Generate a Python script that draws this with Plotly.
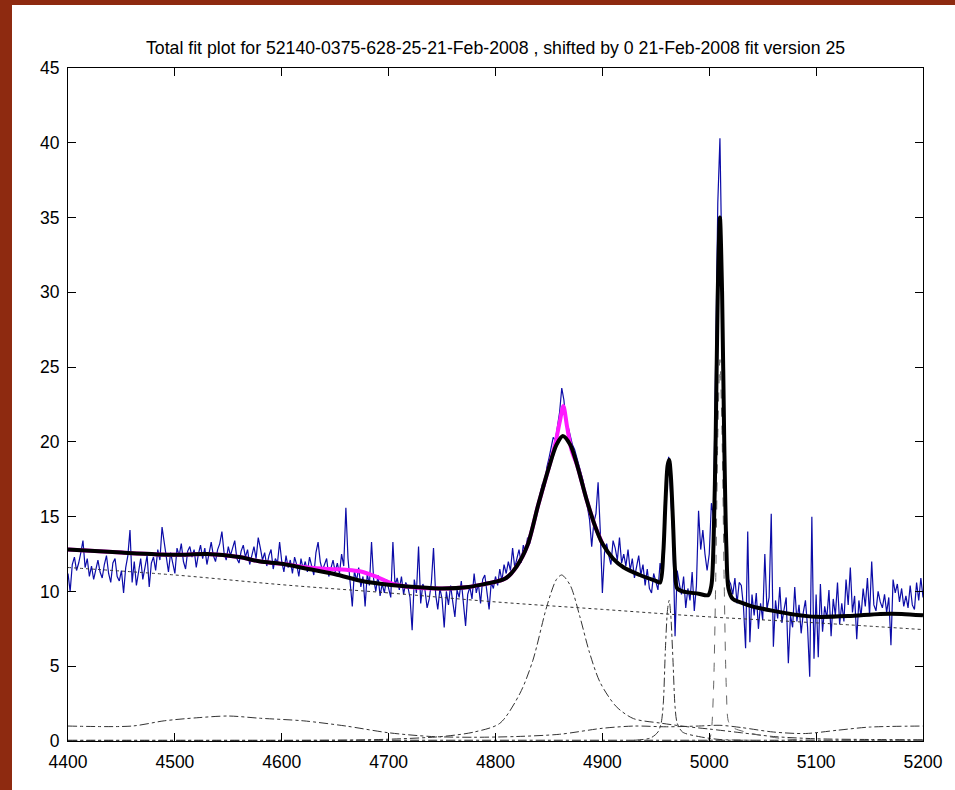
import numpy as np
import plotly.graph_objects as go

# Observed spectrum, 2 A steps from 4400 A
flux = [
    11.2, 10.0, 11.8, 12.3, 11.4, 11.9, 12.6, 13.4, 11.6, 12.2,   # 4400
    11.0, 11.7, 10.8, 11.5, 12.1, 11.3, 10.9, 11.8, 12.4, 11.2,   # 4420
    10.6, 11.9, 12.2, 11.0, 10.7, 11.4, 9.9, 11.6, 12.4, 14.1,    # 4440
    10.6, 12.0, 10.4, 11.3, 12.2, 10.8, 11.7, 12.4, 10.3, 11.9,   # 4460
    12.3, 11.4, 12.8, 12.1, 14.3, 13.4, 12.2, 11.3, 12.6, 12.0,   # 4480
    11.2, 12.9, 12.4, 13.2, 12.0, 11.5, 12.7, 13.0, 12.3, 12.8,   # 4500
    11.6, 12.5, 13.1, 12.2, 12.9, 11.8, 12.6, 13.3, 12.4, 12.0,   # 4520
    12.8, 13.2, 14.0, 12.6, 12.1, 13.0, 12.4, 12.9, 13.4, 12.2,   # 4540
    11.9, 12.7, 13.1, 12.3, 12.8, 11.8, 12.5, 13.0, 12.2, 13.6,   # 4560
    12.9, 12.1, 12.6, 11.7, 12.4, 12.8, 11.5, 12.2, 11.9, 13.3,   # 4580
    12.0, 11.3, 12.4, 11.6, 12.1, 11.2, 12.3, 11.8, 11.0, 12.2,   # 4600
    11.5, 12.0, 11.3, 12.3, 11.7, 11.1, 12.6, 13.3, 12.0, 11.4,   # 4620
    11.8, 12.2, 11.0, 11.6, 12.1, 11.3, 11.9, 11.2, 12.5, 11.7,   # 4640
    15.6, 12.2, 10.8, 9.0, 11.4, 10.7, 11.6, 10.3, 11.0, 9.0,     # 4660
    11.2, 10.4, 13.3, 10.8, 10.0, 11.1, 9.7, 10.5, 9.9, 10.8,     # 4680
    10.2, 9.6, 13.3, 10.4, 10.9, 10.1, 11.0, 9.8, 10.6, 10.3,     # 4700
    9.6, 7.4, 10.8, 9.9, 13.0, 9.2, 10.5, 10.1, 8.9, 9.5,         # 4720
    10.6, 12.9, 9.8, 8.8, 10.2, 9.5, 7.6, 10.0, 9.1, 10.4,        # 4740
    9.3, 8.3, 10.1, 9.6, 10.7, 9.0, 7.7, 9.8, 10.3, 9.5,          # 4760
    11.2, 9.9, 10.5, 9.2, 10.8, 11.1, 10.0, 8.8, 10.6, 10.2,      # 4780
    11.0, 10.4, 11.5, 10.7, 11.8, 11.2, 12.0, 11.4, 12.9, 11.6,   # 4800
    12.2, 12.8, 11.9, 13.1, 12.6, 13.6, 13.2, 14.1, 14.8, 15.3,   # 4820
    15.8, 16.6, 17.2, 17.0, 18.3, 18.9, 19.6, 20.3, 20.1, 21.0,   # 4840
    22.0, 23.6, 22.8, 21.2, 21.0, 20.4, 19.8, 19.5, 19.0, 18.4,   # 4860
    17.9, 17.4, 16.5, 15.7, 14.8, 13.0, 14.6, 15.2, 17.3, 14.1,   # 4880
    9.9, 12.6, 13.2, 12.4, 11.8, 13.4, 12.9, 12.1, 13.6, 11.9,    # 4900
    12.5, 11.7, 12.8, 11.4, 12.2, 10.9, 11.6, 12.4, 11.1, 11.8,   # 4920
    10.4, 11.5, 10.2, 9.9, 11.2, 10.6, 10.1, 11.9, 11.0, 13.5,    # 4940
    17.6, 19.0, 16.0, 13.7, 7.0, 11.4, 10.5, 9.8, 11.0, 8.9,      # 4960
    10.2, 9.4, 11.3, 8.7, 10.4, 15.4, 12.8, 14.1, 12.5, 11.4,     # 4980
    12.5, 15.9, 15.0, 24.0, 36.0, 40.3, 31.0, 19.0, 12.5, 10.8,   # 5000
    10.5, 9.8, 10.9, 9.2, 10.6, 10.4, 9.0, 6.2, 14.0, 6.6,        # 5020
    9.8, 8.4, 9.9, 7.5, 9.2, 8.1, 12.5, 8.8, 9.6, 15.2,           # 5040
    6.3, 9.4, 8.2, 10.3, 7.9, 8.8, 9.6, 5.2, 8.4, 7.6,            # 5060
    10.3, 8.0, 9.1, 7.2, 8.6, 9.4, 7.6, 4.3, 15.0, 5.5,           # 5080
    9.8, 5.6, 10.5, 7.3, 9.0, 8.2, 10.1, 7.0, 9.5, 8.4,           # 5100
    10.6, 7.8, 9.2, 8.0, 10.8, 9.1, 11.6, 8.6, 9.7, 6.8,          # 5120
    9.4, 8.3, 10.2, 9.0, 10.9, 8.4, 12.0, 9.1, 8.7, 10.0,         # 5140
    9.3, 8.9, 9.8, 8.6, 9.6, 6.4, 10.8, 9.9, 10.5, 9.3,           # 5160
    10.2, 9.0, 9.7, 8.9, 10.4, 9.1, 8.8, 10.6, 9.4, 10.9,         # 5180
    9.6,                                                          # 5200
]
wave = 4400 + 2 * np.arange(len(flux))

# Total model (black)
fit_wave = [4400, 4450, 4500, 4530, 4560, 4580, 4600, 4625, 4650, 4675, 4700,
            4725, 4750, 4775, 4790, 4800, 4810, 4820, 4830, 4840, 4850, 4857,
            4863, 4870, 4877, 4885, 4893, 4900, 4910, 4920, 4935, 4950, 4954,
            4957, 4959, 4961, 4962.5, 4964, 4966, 4968, 4970, 4975, 4990, 4999,
            5002, 5004, 5006, 5008, 5010, 5012, 5014, 5016, 5018, 5022, 5030,
            5040, 5060, 5080, 5100, 5130, 5160, 5180, 5200]
fit_flux = [12.8, 12.6, 12.45, 12.5, 12.3, 12.0, 11.85, 11.5, 11.15, 10.7, 10.45,
            10.3, 10.2, 10.3, 10.5, 10.65, 10.9, 11.7, 13.1, 15.8, 18.3, 19.8,
            20.4, 19.8, 18.3, 16.2, 14.4, 13.2, 12.2, 11.6, 11.1, 10.7, 10.6,
            12.6, 15.9, 18.4, 18.8, 17.8, 14.8, 11.4, 10.2, 10.0, 9.85, 9.75,
            10.4, 13.2, 20.2, 30.1, 35.0, 30.0, 20.1, 13.0, 10.2, 9.5, 9.25,
            9.0, 8.7, 8.45, 8.3, 8.35, 8.5, 8.5, 8.4]

# Alternative model (magenta), includes narrow H-beta and extra emission near 4680
alt_wave = [4400, 4450, 4500, 4530, 4560, 4580, 4600, 4625, 4645, 4660, 4673,
            4689, 4704, 4720, 4750, 4775, 4790, 4800, 4810, 4820, 4830, 4840,
            4850, 4856, 4860, 4863.5, 4867, 4871, 4877, 4885, 4893, 4900]
alt_flux = [12.8, 12.6, 12.45, 12.5, 12.3, 12.0, 11.85, 11.6, 11.5, 11.45, 11.35,
            10.97, 10.5, 10.3, 10.2, 10.3, 10.5, 10.65, 10.9, 11.7, 13.1, 15.8,
            18.3, 19.9, 21.3, 22.4, 21.0, 19.5, 18.3, 16.2, 14.4, 13.2]

# Power-law continuum (dotted)
cont_wave = [4400, 4500, 4600, 4700, 4800, 4900, 5000, 5100, 5200]
cont_flux = [11.6, 11.1, 10.45, 9.9, 9.3, 8.8, 8.3, 7.9, 7.45]

# Fe II template (dash-dot)
fe_wave = [4400, 4460, 4490, 4520, 4550, 4580, 4620, 4660, 4700, 4740, 4780,
           4820, 4860, 4900, 4930, 4960, 4990, 5010, 5030, 5060, 5090, 5120,
           5150, 5200]
fe_flux = [1.0, 1.0, 1.35, 1.55, 1.67, 1.52, 1.35, 1.0, 0.55, 0.3, 0.25,
           0.3, 0.45, 0.85, 1.0, 0.95, 1.0, 1.05, 0.9, 0.6, 0.5, 0.72,
           0.93, 1.0]

# Broad H-beta (dash-dot)
hb_wave = [4400, 4650, 4700, 4750, 4780, 4804, 4823, 4835, 4848, 4857, 4862,
           4870, 4879, 4888, 4898, 4913, 4929, 4954, 4980, 5000, 5030, 5060,
           5100, 5150, 5200]
hb_flux = [0.02, 0.05, 0.12, 0.3, 0.6, 1.18, 3.2, 5.4, 9.0, 10.8, 11.1,
           10.4, 8.3, 5.9, 3.9, 2.3, 1.5, 1.2, 0.95, 0.8, 0.55, 0.3,
           0.15, 0.1, 0.08]

# [O III] 4959 (dash-dot)
o3a_wave = [4930, 4945, 4952, 4955, 4957, 4959, 4961, 4962.5, 4964, 4966,
            4968, 4970, 4975, 4990, 5010, 5040]
o3a_flux = [0.05, 0.2, 0.6, 1.2, 2.5, 6.2, 8.8, 9.4, 8.4, 5.5, 2.3, 1.2,
            0.6, 0.3, 0.1, 0.05]

# [O III] 5007 (dashed)
o3b_wave = [4980, 4995, 5000, 5002, 5004, 5006, 5008, 5010, 5012, 5014, 5016,
            5018, 5022, 5040, 5070, 5100, 5200]
o3b_flux = [0.0, 0.0, 0.1, 0.7, 3.5, 10.5, 20.4, 25.5, 20.4, 10.5, 3.5,
            1.3, 0.9, 0.5, 0.15, 0.05, 0.03]

# Weak residual component near zero (dash-dot)
res_wave = [4400, 4600, 4800, 5000, 5200]
res_flux = [0.05, 0.05, 0.05, 0.05, 0.05]

fig = go.Figure()

fig.add_trace(go.Scatter(x=wave, y=flux, mode="lines",
                         line=dict(color="#0c0ca8", width=1.2)))
fig.add_trace(go.Scatter(x=cont_wave, y=cont_flux, mode="lines", line_shape="spline",
                         line=dict(color="#333333", width=1, dash="dot")))
for xs, ys, dash, col in [
    (res_wave, res_flux, "dashdot", "#222222"),
    (fe_wave, fe_flux, "dashdot", "#333333"),
    (hb_wave, hb_flux, "dashdot", "#333333"),
    (o3a_wave, o3a_flux, "dashdot", "#333333"),
    (o3b_wave, o3b_flux, "dash", "#666666"),
]:
    fig.add_trace(go.Scatter(x=xs, y=ys, mode="lines", line_shape="spline",
                             line=dict(color=col, width=1, dash=dash, smoothing=0.8)))
fig.add_trace(go.Scatter(x=alt_wave, y=alt_flux, mode="lines", line_shape="spline",
                         line=dict(color="#ff1aff", width=4, smoothing=0.8)))
fig.add_trace(go.Scatter(x=fit_wave, y=fit_flux, mode="lines", line_shape="spline",
                         line=dict(color="black", width=4, smoothing=0.8)))

W, H = 955, 790
L, R, T, B = 68, 923, 68, 741
pw, ph = R - L, B - T

def px(xp):
    return (xp - L) / pw

def py(yp):
    return (B - yp) / ph

# white figure panel on a dark red backdrop
fig.add_shape(type="rect", xref="paper", yref="paper",
              x0=px(12), x1=px(W + 5), y0=py(H + 5), y1=py(5),
              fillcolor="white", line=dict(width=0), layer="below")

FONT = "Liberation Sans, Arial, sans-serif"

fig.add_annotation(
    text="Total fit plot for 52140-0375-628-25-21-Feb-2008 , shifted by 0 21-Feb-2008 fit version 25",
    xref="paper", yref="paper", x=0.5, y=py(48), xanchor="center", yanchor="middle",
    showarrow=False, font=dict(size=17.7, color="black", family=FONT))

axis_common = dict(showline=True, linecolor="black", linewidth=1, mirror="ticks",
                   ticks="inside", ticklen=8, tickcolor="black", tickwidth=1,
                   showgrid=False, zeroline=False,
                   tickfont=dict(size=17.5, color="black", family=FONT))

fig.update_layout(
    width=W, height=H,
    margin=dict(l=L, r=W - R, t=T, b=H - B, pad=0),
    paper_bgcolor="#8e2a10", plot_bgcolor="white",
    showlegend=False,
    xaxis=dict(range=[4400, 5200], tickmode="array",
               tickvals=list(range(4400, 5201, 100)), ticklabelstandoff=5, **axis_common),
    yaxis=dict(range=[0, 45], tickmode="array",
               tickvals=list(range(0, 46, 5)), ticklabelstandoff=4, **axis_common),
)

fig.write_html("out.html")
